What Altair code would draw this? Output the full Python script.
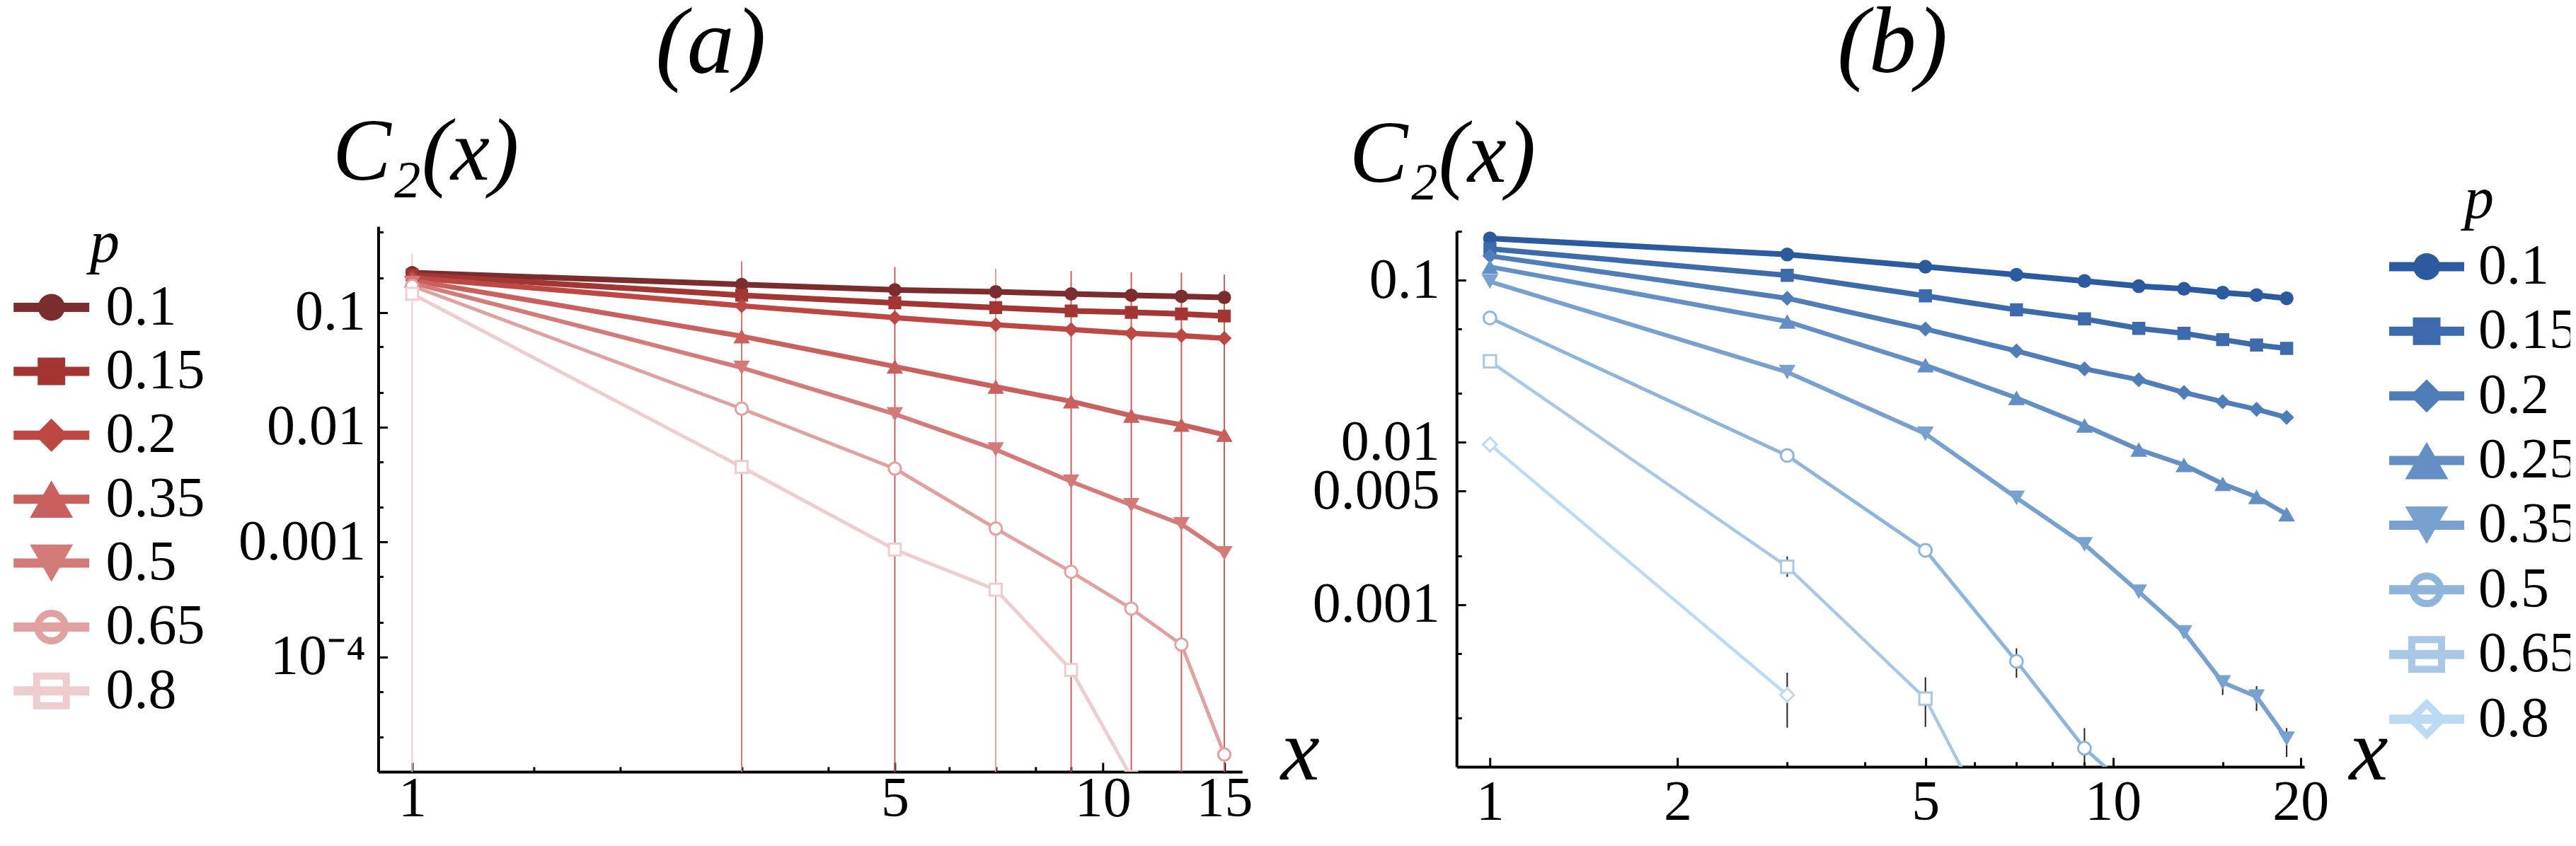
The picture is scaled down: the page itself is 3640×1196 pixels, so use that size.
import altair as alt
import pandas as pd

FONT = "Liberation Serif"

# ---------------- panel (a) ----------------
A_X = [1, 3, 5, 7, 9, 11, 13, 15]
A_SERIES = ["0.1", "0.15", "0.2", "0.35", "0.5", "0.65", "0.8"]
A_COLORS = ["#7b2d2d", "#a33532", "#bc4743", "#c9605d", "#d47b7a", "#e0a2a1", "#eecdce"]
A_WIDTHS = [8, 8, 7.5, 7, 6, 5, 5]
A_Y_010 = [0.222, 0.175, 0.157, 0.151, 0.145, 0.141, 0.138, 0.135]
A_Y_015 = [0.212, 0.141, 0.121, 0.110, 0.103, 0.100, 0.097, 0.093]
A_Y_020 = [0.201, 0.114, 0.090, 0.078, 0.071, 0.0656, 0.0628, 0.0595]
A_Y_035 = [0.19, 0.062, 0.0338, 0.0225, 0.0168, 0.0126, 0.0105, 0.0086]
A_Y_050 = [0.18, 0.033, 0.013, 0.0064, 0.00336, 0.0021, 0.00143, 0.0008]
A_Y_065 = [0.17, 0.0145, 0.00436, 0.00131, 0.00055, 0.000263, 0.000128, 0.0000141]
A_Y_080 = [0.145, 0.0045, 0.00086, 0.000385, 0.000077, 0.000009]
A_ERR_X = [1, 3, 5, 7, 9, 11, 13, 15]
A_ERR_SERIES = ["0.8", "0.5", "0.35", "0.65", "0.35", "0.35", "0.35", "0.35"]
A_ERR_HI = [0.325, 0.278, 0.248, 0.24, 0.229, 0.223, 0.222, 0.214]
A_ERR_LO = [1e-9, 1e-9, 1e-9, 1e-9, 1e-9, 1e-9, 1e-9, 1e-9]
A_XMAJOR = [1, 5, 10, 15]
A_XMINOR = [1.5, 2, 3, 4, 6, 7, 8, 9]
A_YMAJOR = [0.1, 0.01, 0.001, 0.0001]
A_YMINOR = [0.5, 0.2, 0.05, 0.02, 0.005, 0.002, 0.0005, 0.0002, 0.00005, 0.00002]

# ---------------- panel (b) ----------------
B_X = [1, 3, 5, 7, 9, 11, 13, 15, 17, 19]
B_SERIES = ["0.1", "0.15", "0.2", "0.25", "0.35", "0.5", "0.65", "0.8"]
B_COLORS = ["#2c5a9f", "#3d6aaa", "#4f7db8", "#638fc4", "#78a1cf", "#90b5db", "#a8c8e6", "#bcdaf1"]
B_WIDTHS = [8, 7.5, 7, 6.5, 6, 5, 4.5, 4.5]
B_Y_010 = [0.181, 0.144, 0.121, 0.108, 0.0988, 0.0918, 0.0884, 0.0838, 0.0809, 0.0773]
B_Y_015 = [0.156, 0.107, 0.080, 0.0656, 0.0577, 0.0504, 0.047, 0.043, 0.0398, 0.038]
B_Y_020 = [0.141, 0.0773, 0.050, 0.0366, 0.0284, 0.0243, 0.0203, 0.0178, 0.016, 0.01425]
B_Y_025 = [0.121, 0.0556, 0.0299, 0.0188, 0.0127, 0.00903, 0.00726, 0.00555, 0.00461, 0.0036]
B_Y_035 = [0.098, 0.0271, 0.0113, 0.00455, 0.00235, 0.0012, 0.000674, 0.000331, 0.000271, 0.000149]
B_Y_050 = [0.0585, 0.0083, 0.00216, 0.000447, 0.00013, 0.000065]
B_Y_065 = [0.0316, 0.00171, 0.000263, 0.000022]
B_Y_080 = [0.0097, 0.000277]
B_ERR_X = [1, 3, 3, 5, 7, 9, 15, 17, 19]
B_ERR_SERIES = ["0.8", "0.8", "0.65", "0.65", "0.5", "0.5", "0.35", "0.35", "0.35"]
B_ERR_LO = [0.0087, 0.000174, 0.00148, 0.000176, 0.000354, 0.00008, 0.000277, 0.000221, 0.000115]
B_ERR_HI = [0.0107, 0.00038, 0.00198, 0.000356, 0.000537, 0.000173, 0.000363, 0.000314, 0.000173]
B_XMAJOR = [1, 2, 5, 10, 20]
B_XMINOR = [3, 4, 6, 7, 8, 9, 15]
B_YMAJOR = [0.1, 0.01, 0.005, 0.001]
B_YMINOR = [0.2, 0.05, 0.02, 0.002, 0.0005, 0.0002]

# marker styles
A_SHAPES = ["circle", "square", "diamond", "triangle-up", "triangle-down", "circle", "square"]
A_HOLLOW = [False, False, False, False, False, True, True]
A_MSIZE = [360, 330, 430, 540, 540, 300, 280]
A_LSIZE = [1444, 1521, 2200, 3721, 3721, 1521, 1764]
B_SHAPES = ["circle", "square", "diamond", "triangle-up", "triangle-down", "circle", "square", "diamond"]
B_HOLLOW = [False, False, False, False, False, True, True, True]
B_MSIZE = [380, 340, 450, 560, 560, 320, 300, 380]
B_LSIZE = [1444, 1521, 2200, 3721, 3721, 1521, 1764, 1900]


def make_panel(g):
    rows = []
    for s, ys in zip(g["series"], g["values"]):
        for x, y in zip(g["xs"], ys):
            rows.append({"x": x, "y": y, "p": s})
    df = pd.DataFrame(rows)
    err = pd.DataFrame({"x": g["err_x"], "lo": g["err_lo"], "hi": g["err_hi"], "p": g["err_series"]})
    leg = pd.DataFrame({"p": g["series"], "hollow": g["hollow"]})

    W, H = g["W"], g["H"]
    dom = g["series"]
    xs = alt.Scale(type="log", domain=g["xdom"], nice=False)

    def ys_():
        return alt.Scale(type="log", domain=g["ydom"], nice=False)

    stroke_scale = alt.Scale(domain=dom, range=g["colors"])
    fill_scale = alt.Scale(domain=dom, range=g["colors"])

    def xnone():
        return alt.X("x:Q", scale=xs, axis=None)

    def ynone(field="y"):
        return alt.Y(f"{field}:Q", scale=ys_(), axis=None)

    def tick_axis(orient, off, vals, size):
        return alt.Axis(orient=orient, offset=off, values=vals, labels=False, domain=False,
                        grid=False, ticks=True, tickSize=size, tickWidth=3, tickColor="black",
                        title=None)

    layers = []
    # error bars
    if g["err_black"]:
        rule_color = alt.value("#222222")
    else:
        rule_color = alt.Stroke("p:N", scale=stroke_scale, legend=None)
    layers.append(
        alt.Chart(err).mark_rule(strokeWidth=2, clip=True).encode(
            x=xnone(), y=ynone("lo"), y2="hi:Q", stroke=rule_color
        )
    )
    # lines carrying the main (labelled) axes
    xaxis = alt.Axis(orient="bottom", values=g["xmajor"], format="~g", labelFont=FONT,
                     labelFontSize=80, labelColor="black", labelPadding=g["xlabpad"], labelLimit=600,
                     labelFlush=False, labelOverlap=False, ticks=False, tickSize=0, grid=False,
                     domain=True, domainColor="black", domainWidth=4,
                     title="x", titleFont=FONT, titleFontSize=124, titleFontStyle="italic",
                     titleFontWeight="normal", titleColor="black", titleX=g["xtx"], titleY=g["xty"],
                     titleAlign="left", titleBaseline="alphabetic", titleAngle=0)
    yaxis = alt.Axis(orient="left", values=g["ymajor"],
                     labelExpr="datum.value < 0.0005 ? '10⁻⁴' : format(datum.value, '~g')",
                     labelFont=FONT, labelFontSize=80, labelColor="black", labelPadding=g["ylabpad"],
                     labelLimit=600, labelOverlap=False, labelFlush=False, ticks=False, tickSize=0,
                     grid=False, domain=True, domainColor="black", domainWidth=4,
                     title="C₂(x)", titleFont=FONT, titleFontSize=124, titleFontStyle="italic",
                     titleFontWeight="normal", titleColor="black", titleX=g["ytx"], titleY=g["yty"],
                     titleAlign="left", titleBaseline="alphabetic", titleAngle=0)
    layers.append(
        alt.Chart(df).mark_line(clip=True, strokeJoin="round").encode(
            x=alt.X("x:Q", scale=xs, axis=xaxis),
            y=alt.Y("y:Q", scale=ys_(), axis=yaxis),
            stroke=alt.Stroke("p:N", scale=stroke_scale, legend=None),
            strokeWidth=alt.StrokeWidth("p:N", scale=alt.Scale(type="ordinal", domain=dom, range=g["widths"]),
                                        legend=None),
            order="x:Q",
        )
    )
    # markers, one layer per series; the first two carry the inward tick marks
    for i, (s, shp, hol, msz) in enumerate(zip(dom, g["shapes"], g["hollow"], g["msize"])):
        if i == 0:
            xenc = alt.X("x:Q", scale=xs, axis=tick_axis("top", -H, g["xmajor"], 13))
            yenc = alt.Y("y:Q", scale=ys_(), axis=tick_axis("right", -W, g["ymajor"], 13))
        elif i == 1:
            xenc = alt.X("x:Q", scale=xs, axis=tick_axis("top", -H, g["xminor"], 7))
            yenc = alt.Y("y:Q", scale=ys_(), axis=tick_axis("right", -W, g["yminor"], 7))
        else:
            xenc, yenc = xnone(), ynone()
        base = alt.Chart(df).transform_filter(alt.datum.p == s)
        if hol:
            layers.append(
                base.mark_point(shape=shp, filled=True, fill="white", strokeWidth=3, size=msz,
                                opacity=1, clip=True).encode(
                    x=xenc, y=yenc, stroke=alt.Stroke("p:N", scale=stroke_scale, legend=None))
            )
        else:
            layers.append(
                base.mark_point(shape=shp, filled=True, size=msz, opacity=1, clip=True).encode(
                    x=xenc, y=yenc, fill=alt.Fill("p:N", scale=fill_scale, legend=None))
            )

    # ---- legend, drawn from the series list through a point scale ----
    ly = alt.Y("p:N", scale=alt.Scale(type="point", domain=dom, range=[g["ly0"], g["ly1"]], padding=0),
               axis=None)
    shape_scale = alt.Scale(domain=dom, range=g["shapes"])
    size_scale = alt.Scale(type="ordinal", domain=dom, range=g["lsize"])
    layers.append(
        alt.Chart(leg).mark_rule(strokeWidth=13, strokeCap="butt").encode(
            x=alt.value(g["bx0"]), x2=alt.value(g["bx1"]), y=ly,
            stroke=alt.Stroke("p:N", scale=stroke_scale, legend=None))
    )
    layers.append(
        alt.Chart(leg).transform_filter("!datum.hollow").mark_point(filled=True, opacity=1).encode(
            x=alt.value(g["mx"]), y=ly,
            shape=alt.Shape("p:N", scale=shape_scale, legend=None),
            size=alt.Size("p:N", scale=size_scale, legend=None),
            fill=alt.Fill("p:N", scale=fill_scale, legend=None))
    )
    layers.append(
        alt.Chart(leg).transform_filter("datum.hollow").mark_point(filled=False, opacity=1, strokeWidth=10).encode(
            x=alt.value(g["mx"]), y=ly,
            shape=alt.Shape("p:N", scale=shape_scale, legend=None),
            size=alt.Size("p:N", scale=size_scale, legend=None),
            stroke=alt.Stroke("p:N", scale=stroke_scale, legend=None))
    )
    layers.append(
        alt.Chart(leg).mark_text(align="left", baseline="middle", font=FONT, fontSize=g["lfs"],
                                 color="black").encode(
            x=alt.value(g["lx"]), y=ly, text="p:N")
    )
    layers.append(
        alt.Chart(pd.DataFrame({"t": ["p"]})).mark_text(
            align="center", baseline="alphabetic", font=FONT, fontSize=84, fontStyle="italic",
            color="black").encode(x=alt.value(g["tx"]), y=alt.value(g["ty"]), text="t:N")
    )

    title = alt.TitleParams(text=g["title"], font=FONT, fontSize=134, fontStyle="italic",
                            fontWeight="normal", color="black", anchor="middle", frame="group",
                            dx=g["tdx"], offset=g["toff"], baseline="alphabetic")
    return alt.layer(*layers).resolve_scale(y="independent").properties(width=W, height=H, title=title)


panel_a = make_panel(dict(
    title="(a)", xs=A_X, series=A_SERIES, colors=A_COLORS, widths=A_WIDTHS,
    values=[A_Y_010, A_Y_015, A_Y_020, A_Y_035, A_Y_050, A_Y_065, A_Y_080],
    err_x=A_ERR_X, err_lo=A_ERR_LO, err_hi=A_ERR_HI, err_series=A_ERR_SERIES, err_black=False,
    xmajor=A_XMAJOR, xminor=A_XMINOR, ymajor=A_YMAJOR, yminor=A_YMINOR,
    shapes=A_SHAPES, hollow=A_HOLLOW, msize=A_MSIZE, lsize=A_LSIZE,
    W=1221, H=771, xdom=[0.893, 15.92], ydom=[1e-5, 0.561],
    xlabpad=0, ylabpad=18, xtx=1275, xty=10.3, ytx=-65, yty=-66.5,
    tdx=-140.5, toff=-82,
    ly0=114.5, ly1=656.9, bx0=-515.3, bx1=-408.3, mx=-461.8, lx=-385, lfs=80, tx=-386.5, ty=49.5,
))

panel_b = make_panel(dict(
    title="(b)", xs=B_X, series=B_SERIES, colors=B_COLORS, widths=B_WIDTHS,
    values=[B_Y_010, B_Y_015, B_Y_020, B_Y_025, B_Y_035, B_Y_050, B_Y_065, B_Y_080],
    err_x=B_ERR_X, err_lo=B_ERR_LO, err_hi=B_ERR_HI, err_series=B_ERR_SERIES, err_black=True,
    xmajor=B_XMAJOR, xminor=B_XMINOR, ymajor=B_YMAJOR, yminor=B_YMINOR,
    shapes=B_SHAPES, hollow=B_HOLLOW, msize=B_MSIZE, lsize=B_LSIZE,
    W=1198, H=757, xdom=[0.884, 20.28], ydom=[1e-4, 0.2],
    xlabpad=12, ylabpad=24, xtx=1261, xty=17.4, ytx=-152, yty=-70.6,
    tdx=17, toff=-79,
    ly0=49.9, ly1=689.7, bx0=1318, bx1=1424, mx=1371, lx=1444, lfs=80, tx=1445, ty=-19,
))

chart = alt.hconcat(panel_a, panel_b, spacing=303, bounds="flush", center=True).resolve_scale(
    stroke="independent", fill="independent", shape="independent", size="independent",
    strokeWidth="independent",
).properties(
    padding={"left": 4.5, "top": -13, "right": -10, "bottom": 0}
).configure(font=FONT, background="white").configure_view(stroke=None)

chart.save("out.html", embed_options={"renderer": "svg", "actions": False})
